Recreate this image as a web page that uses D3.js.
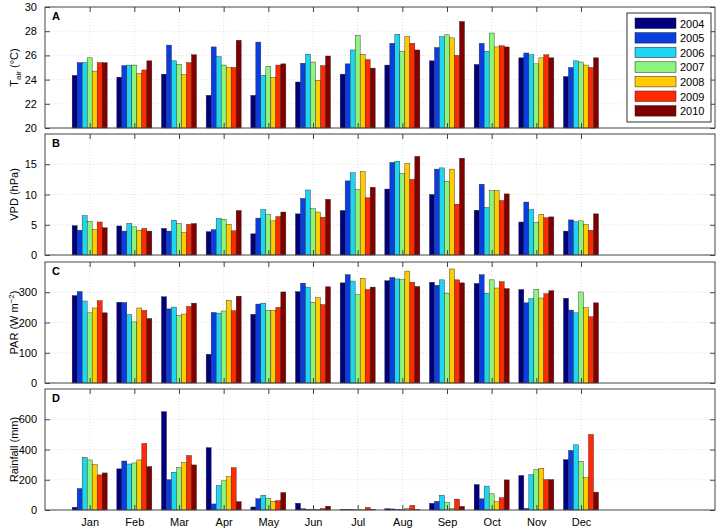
<!DOCTYPE html><html><head><meta charset="utf-8">
<script src="https://cdn.jsdelivr.net/npm/d3@7"></script>
<style>body{margin:0;background:#fff}text{font-family:"Liberation Sans",Arial,sans-serif}</style>
</head><body><svg id="c" width="720" height="530"></svg>
<script>
const months=["Jan","Feb","Mar","Apr","May","Jun","Jul","Aug","Sep","Oct","Nov","Dec"];
const years=["2004","2005","2006","2007","2008","2009","2010"];
const colors=["#00007f","#0a3ee0","#1ed6f2","#8cf57c","#ffcc00","#ff2a00","#800000"];
// rows = months, columns = years
const tair=[[24.35,25.4,25.4,25.8,24.7,25.4,25.4],[24.2,25.15,25.2,25.2,24.5,24.8,25.55],[24.45,26.85,25.55,25.25,24.4,25.4,26.05],[22.7,26.7,25.9,25.2,25.0,25.0,27.25],[22.7,27.1,24.35,25.1,24.2,25.2,25.3],[23.8,25.35,26.1,25.45,23.95,25.15,25.95],[24.45,25.3,26.45,27.65,26.1,25.65,24.95],[25.2,27.0,27.75,26.35,27.55,27.0,26.45],[25.55,26.65,27.55,27.7,27.45,26.0,28.8],[25.25,27.0,26.35,27.85,26.7,26.8,26.7],[25.8,26.2,26.05,25.3,25.8,26.05,25.8],[24.25,25.0,25.55,25.45,25.2,25.0,25.8]];
const vpd=[[4.85,4.1,6.5,5.55,4.2,5.45,4.5],[4.8,3.95,5.25,4.65,4.1,4.4,3.95],[4.4,3.95,5.75,5.2,3.7,5.05,5.2],[3.85,4.2,6.05,5.9,5.05,4.0,7.35],[3.5,6.1,7.5,6.7,5.65,6.35,7.1],[6.8,9.35,10.75,7.65,7.1,6.25,9.2],[7.35,12.25,13.6,10.8,13.8,9.45,11.2],[10.9,15.3,15.5,13.5,15.1,12.5,16.3],[10.0,14.2,14.4,12.2,14.2,8.4,16.0],[7.4,11.7,7.85,10.65,10.65,9.0,10.1],[5.45,8.75,7.5,5.4,6.7,6.15,6.3],[3.95,5.8,5.5,5.65,5.05,4.1,6.8]];
const par=[[289,302,271,232,248,272,232],[267,266,226,202,248,240,213],[285,245,251,224,228,253,264],[95,233,231,238,273,239,287],[227,261,264,240,240,250,301],[302,330,317,267,282,259,318],[331,358,337,292,346,309,317],[338,349,344,342,370,333,319],[333,323,341,297,377,341,331],[329,358,297,341,314,335,312],[309,265,279,310,281,295,305],[280,241,232,301,249,219,265]];
const rain=[[18,142,348,331,300,232,245],[272,324,304,311,331,440,287],[650,200,250,280,315,360,298],[412,40,162,193,220,280,55],[20,75,98,78,58,62,115],[45,8,5,2,3,10,25],[3,3,2,1,1,17,3],[8,7,5,3,8,30,2],[44,57,98,52,9,72,24],[168,74,158,107,55,81,199],[228,11,234,267,276,201,201],[333,394,431,322,214,499,118]];
const panels=[
 {id:"A",data:tair,dom:[20,30],ticks:[20,22,24,26,28,30],top:7,bot:128,label:"tair"},
 {id:"B",data:vpd,dom:[0,20],ticks:[0,5,10,15],grid:[5,10,15],top:134,bot:255,label:"VPD (hPa)"},
 {id:"C",data:par,dom:[0,400],ticks:[0,100,200,300],grid:[100,200,300],top:262,bot:383,label:"par"},
 {id:"D",data:rain,dom:[0,800],ticks:[0,200,400,600],grid:[200,400,600],top:389,bot:510,label:"Rainfall (mm)"}
];
const svg=d3.select("#c");
const L=45,R=715;
const x=d3.scaleLinear().domain([0,15]).range([L,R]);
const bw=x(0.112)-x(0);
panels.forEach(p=>{
 const y=d3.scaleLinear().domain(p.dom).range([p.bot,p.top]);
 const g=svg.append("g");
 const gridY=p.grid||p.ticks.slice(1,-1);
 g.selectAll(".gy").data(gridY).enter().append("line").attr("x1",L).attr("x2",R).attr("y1",d=>y(d)).attr("y2",d=>y(d)).attr("stroke","#ccc").attr("stroke-width",0.6).attr("stroke-dasharray","1,2");
 g.selectAll(".gx").data(d3.range(1,13)).enter().append("line").attr("x1",d=>x(d)).attr("x2",d=>x(d)).attr("y1",p.top).attr("y2",p.bot).attr("stroke","#ccc").attr("stroke-width",0.6).attr("stroke-dasharray","1,2");
 p.data.forEach((row,mi)=>{
  row.forEach((v,yi)=>{
   const cx=x(mi+1)+(yi-3)*bw;
   g.append("rect").attr("x",cx-bw/2).attr("width",bw).attr("y",y(v)).attr("height",Math.max(0,y(p.dom[0])-y(v)))
    .attr("fill",colors[yi]).attr("stroke","#222").attr("stroke-width",0.4);
  });
 });
 g.append("rect").attr("x",L).attr("y",p.top).attr("width",R-L).attr("height",p.bot-p.top).attr("fill","none").attr("stroke","#444").attr("stroke-width",1);
 // ticks
 const ax=d3.axisLeft(y).tickValues(p.ticks).tickSize(-5).tickPadding(8).tickFormat(d3.format("d"));
 const ga=g.append("g").attr("transform",`translate(${L},0)`).call(ax);
 ga.select(".domain").remove();ga.selectAll("text").attr("font-size",11).attr("fill","#000");
 const ar=d3.axisRight(y).tickValues(p.ticks).tickSize(-5).tickFormat("");
 const gr=g.append("g").attr("transform",`translate(${R},0)`).call(ar);gr.select(".domain").remove();
 const xb=d3.axisBottom(x).tickValues(d3.range(1,13)).tickSize(-5).tickFormat(p.id==="D"?(d=>months[d-1]):"").tickPadding(8);
 const gb=g.append("g").attr("transform",`translate(0,${p.bot})`).call(xb);gb.select(".domain").remove();gb.selectAll("text").attr("font-size",11).attr("fill","#000");
 const xt=d3.axisTop(x).tickValues(d3.range(1,13)).tickSize(-5).tickFormat("");
 const gt=g.append("g").attr("transform",`translate(0,${p.top})`).call(xt);gt.select(".domain").remove();
 g.selectAll(".tick line").attr("stroke","#444");
 g.append("text").attr("x",L+7).attr("y",p.top+13).attr("font-weight","bold").attr("font-size",11).text(p.id);
 const cy=(p.top+p.bot)/2;
 const t=g.append("text").attr("transform",`translate(18,${cy}) rotate(-90)`).attr("text-anchor","middle").attr("font-size",11);
 if(p.label==="tair"){t.append("tspan").text("T");t.append("tspan").attr("font-size",8).attr("dy",3).text("air");t.append("tspan").attr("dy",-3).text(" (°C)");}
 else if(p.label==="par"){t.append("tspan").text("PAR (W m");t.append("tspan").attr("font-size",8).attr("dy",-4).text("−2");t.append("tspan").attr("dy",4).text(")");}
 else t.text(p.label);
});
// legend
const lg=svg.append("g");
lg.append("rect").attr("x",627).attr("y",13).attr("width",84).attr("height",109).attr("fill","#fff").attr("stroke","#333");
years.forEach((yr,i)=>{
 const yy=18+i*14.6;
 lg.append("rect").attr("x",635).attr("y",yy).attr("width",41).attr("height",10.5).attr("fill",colors[i]).attr("stroke","#222").attr("stroke-width",0.5);
 lg.append("text").attr("x",680).attr("y",yy+9.5).attr("font-size",11).text(yr);
});
</script></body></html>
